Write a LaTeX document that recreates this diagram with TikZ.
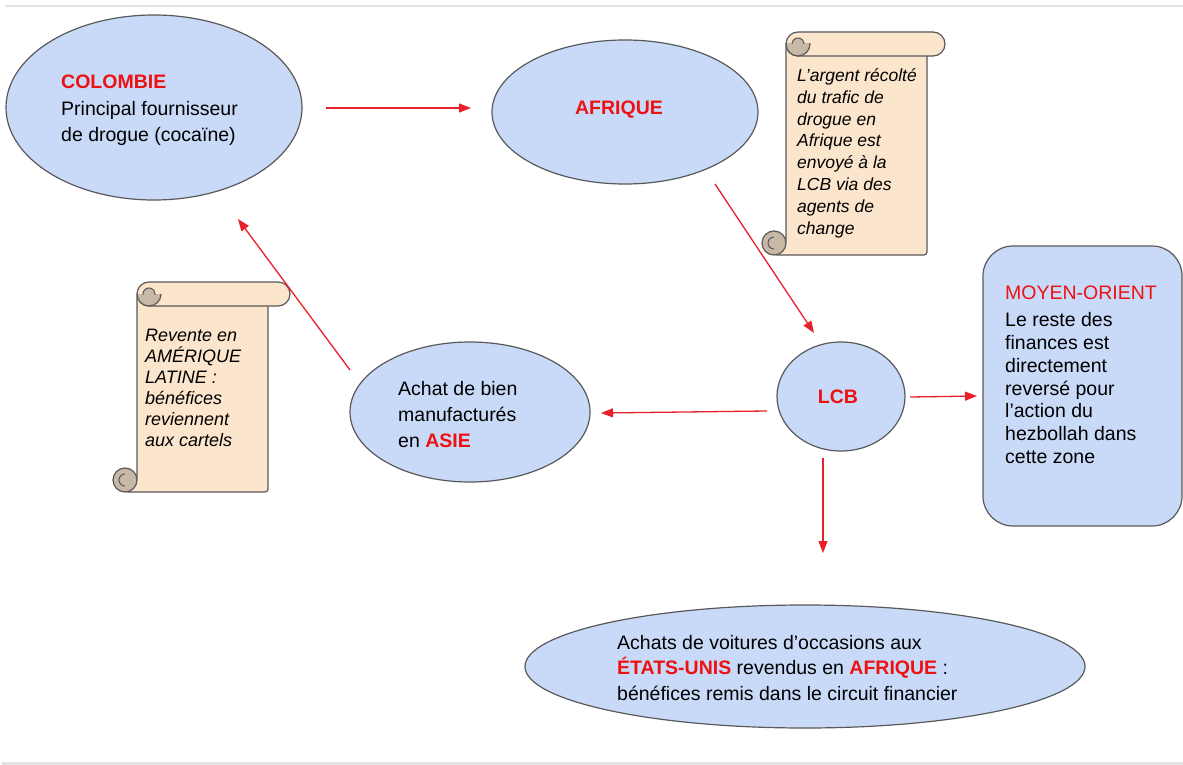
\documentclass[tikz,border=0pt]{standalone}
\usepackage{fontspec}
\setmainfont{Liberation Sans}
\usetikzlibrary{shapes.geometric,arrows.meta}
\definecolor{ellfill}{HTML}{C9DAF8}
\definecolor{edgegray}{HTML}{595959}
\definecolor{myred}{HTML}{EE1111}
\definecolor{arrred}{HTML}{E8202A}
\definecolor{scrollfill}{HTML}{FCE5CD}
\definecolor{curlfill}{HTML}{C8B8A6}
\definecolor{rulegray}{HTML}{E3E3E3}
\newcommand{\drawscroll}[6]{%
  \pgfmathsetmacro\scrLb{#1+2*#5}%
  \pgfmathsetmacro\scrLr{#1+#5}%
  \pgfmathsetmacro\scrTr{#3+#5}%
  \pgfmathsetmacro\scrTtr{#3+2*#5}%
  \pgfmathsetmacro\scrBr{#4-#5}%
  \pgfmathsetmacro\scrLbr{#1+3*#5}%
  \pgfmathsetmacro\scrLbb{#1+4*#5}%
  \pgfmathsetmacro\scrHalf{#5/2}%
  \filldraw[scrollpart, rounded corners=3pt] (\scrLb,\scrTr) -- (\scrLb,\scrBr) -- (\scrLr,#4) -- (#6,#4) -- (#6,\scrTr) -- cycle;
  \filldraw[curlpart] (\scrLr,\scrBr) circle[radius=#5];
  \draw[edgegray, line width=1pt] (\scrLr,\scrBr+\scrHalf) arc[start angle=90, end angle=270, radius=\scrHalf];
  \filldraw[scrollpart, rounded corners=#5] (\scrLb,#3) rectangle (#2,\scrTtr);
  \begin{scope}
    \clip (\scrLb-1,\scrTr) rectangle (\scrLbb+1,\scrTtr+1);
    \filldraw[curlpart] (\scrLbr,\scrTr) circle[radius=#5];
  \end{scope}
  \begin{scope}
    \clip (\scrLb-1,#3) rectangle (\scrLbb+1,\scrTr);
    \filldraw[curlpart, line width=1pt] (\scrLbr,\scrTr) circle[radius=\scrHalf];
  \end{scope}
}
\begin{document}
\begin{tikzpicture}[x=1pt,y=-1pt,
  ell/.style={ellipse, draw=edgegray, fill=ellfill, line width=1.2pt, inner sep=0pt},
  roundbox/.style={rectangle, rounded corners=30pt, draw=edgegray, fill=ellfill, line width=1.2pt, inner sep=0pt},
  scrollpart/.style={fill=scrollfill, draw=edgegray, line width=1.2pt},
  curlpart/.style={fill=curlfill, draw=edgegray, line width=1.2pt},
  lbl/.style={anchor=north west, inner sep=0pt, align=left, font=\fontsize{19.5}{26.5}\selectfont},
  scrolltxt/.style={anchor=north west, inner sep=0pt, align=left, font=\fontsize{17.5}{21.8}\selectfont\itshape},
  title/.style={inner sep=0pt, text=myred, font=\fontsize{19.5}{24}\selectfont\bfseries},
  arr/.style={draw=arrred, line width=1.3pt, -{Triangle[length=12pt,width=9pt]}}
]
\useasboundingbox (0,0) rectangle (1183,765);
\fill[white] (0,0) rectangle (1183,765);
\draw[rulegray, line width=2.5pt] (5,6) -- (1183,6);
\draw[rulegray, line width=2.5pt] (2,763.5) -- (1183,763.5);

% shapes
\node[ell, minimum width=296pt, minimum height=185pt] (colombie) at (154,107.5) {};
\node[ell, minimum width=266pt, minimum height=144pt] (afrique) at (625,112) {};
\node[ell, minimum width=240pt, minimum height=140pt] (asie) at (470,412) {};
\node[ell, minimum width=128pt, minimum height=109pt] (lcb) at (841,396.5) {};
\node[roundbox, minimum width=199pt, minimum height=280pt] (moyen) at (1082.5,386) {};
\node[ell, minimum width=560pt, minimum height=123pt] (usa) at (805,666.5) {};

\drawscroll{762}{945}{32}{255}{12}{927}
\drawscroll{113}{290}{282}{492}{12}{268}

% texts
\node[lbl] (tcol) at (61,75) {\textcolor{myred}{\bfseries COLOMBIE}\\Principal fournisseur\\de drogue (cocaïne)};
\node[title] (tafr) at (619,110) {AFRIQUE};
\node[scrolltxt] (tscr1) at (797,68.5) {L’argent récolté\\du trafic de\\drogue en\\Afrique est\\envoyé à la\\LCB via des\\agents de\\change};
\node[scrolltxt, font=\fontsize{18}{21}\selectfont\itshape] (tscr2) at (145,328.5) {Revente en\\AMÉRIQUE\\LATINE :\\bénéfices\\reviennent\\aux cartels};
\node[lbl, font=\fontsize{19.5}{26}\selectfont] (tasie) at (398,381) {Achat de bien\\manufacturés\\en \textcolor{myred}{\bfseries ASIE}};
\node[title] (tlcb) at (838,397) {LCB};
\node[lbl, font=\fontsize{19.5}{22.8}\selectfont] (tmoy) at (1005,286) {\textcolor{myred}{MOYEN-ORIENT}\\[4pt]Le reste des\\finances est\\directement\\reversé pour\\l’action du\\hezbollah dans\\cette zone};
\node[lbl, font=\fontsize{19.5}{25.5}\selectfont] (tusa) at (617,635) {Achats de voitures d’occasions aux\\\textcolor{myred}{\bfseries ÉTATS-UNIS} revendus en \textcolor{myred}{\bfseries AFRIQUE} :\\bénéfices remis dans le circuit financier};

% connector ends
\coordinate (a1s) at (326,108);  \coordinate (a1e) at (471,108);
\coordinate (a2s) at (715,184);  \coordinate (a2e) at (814,333);
\coordinate (a3s) at (767,411);  \coordinate (a3e) at (601,413);
\coordinate (a4s) at (910,397);  \coordinate (a4e) at (977,396);
\coordinate (a5s) at (823,458);  \coordinate (a5e) at (823,553);
\coordinate (a6s) at (350,370);  \coordinate (a6e) at (238,219);

\draw[arr] (a1s) -- (a1e);
\draw[arr] (a2s) -- (a2e);
\draw[arr] (a3s) -- (a3e);
\draw[arr] (a4s) -- (a4e);
\draw[arr] (a5s) -- (a5e);
\draw[arr] (a6s) -- (a6e);
\end{tikzpicture}
\end{document}
